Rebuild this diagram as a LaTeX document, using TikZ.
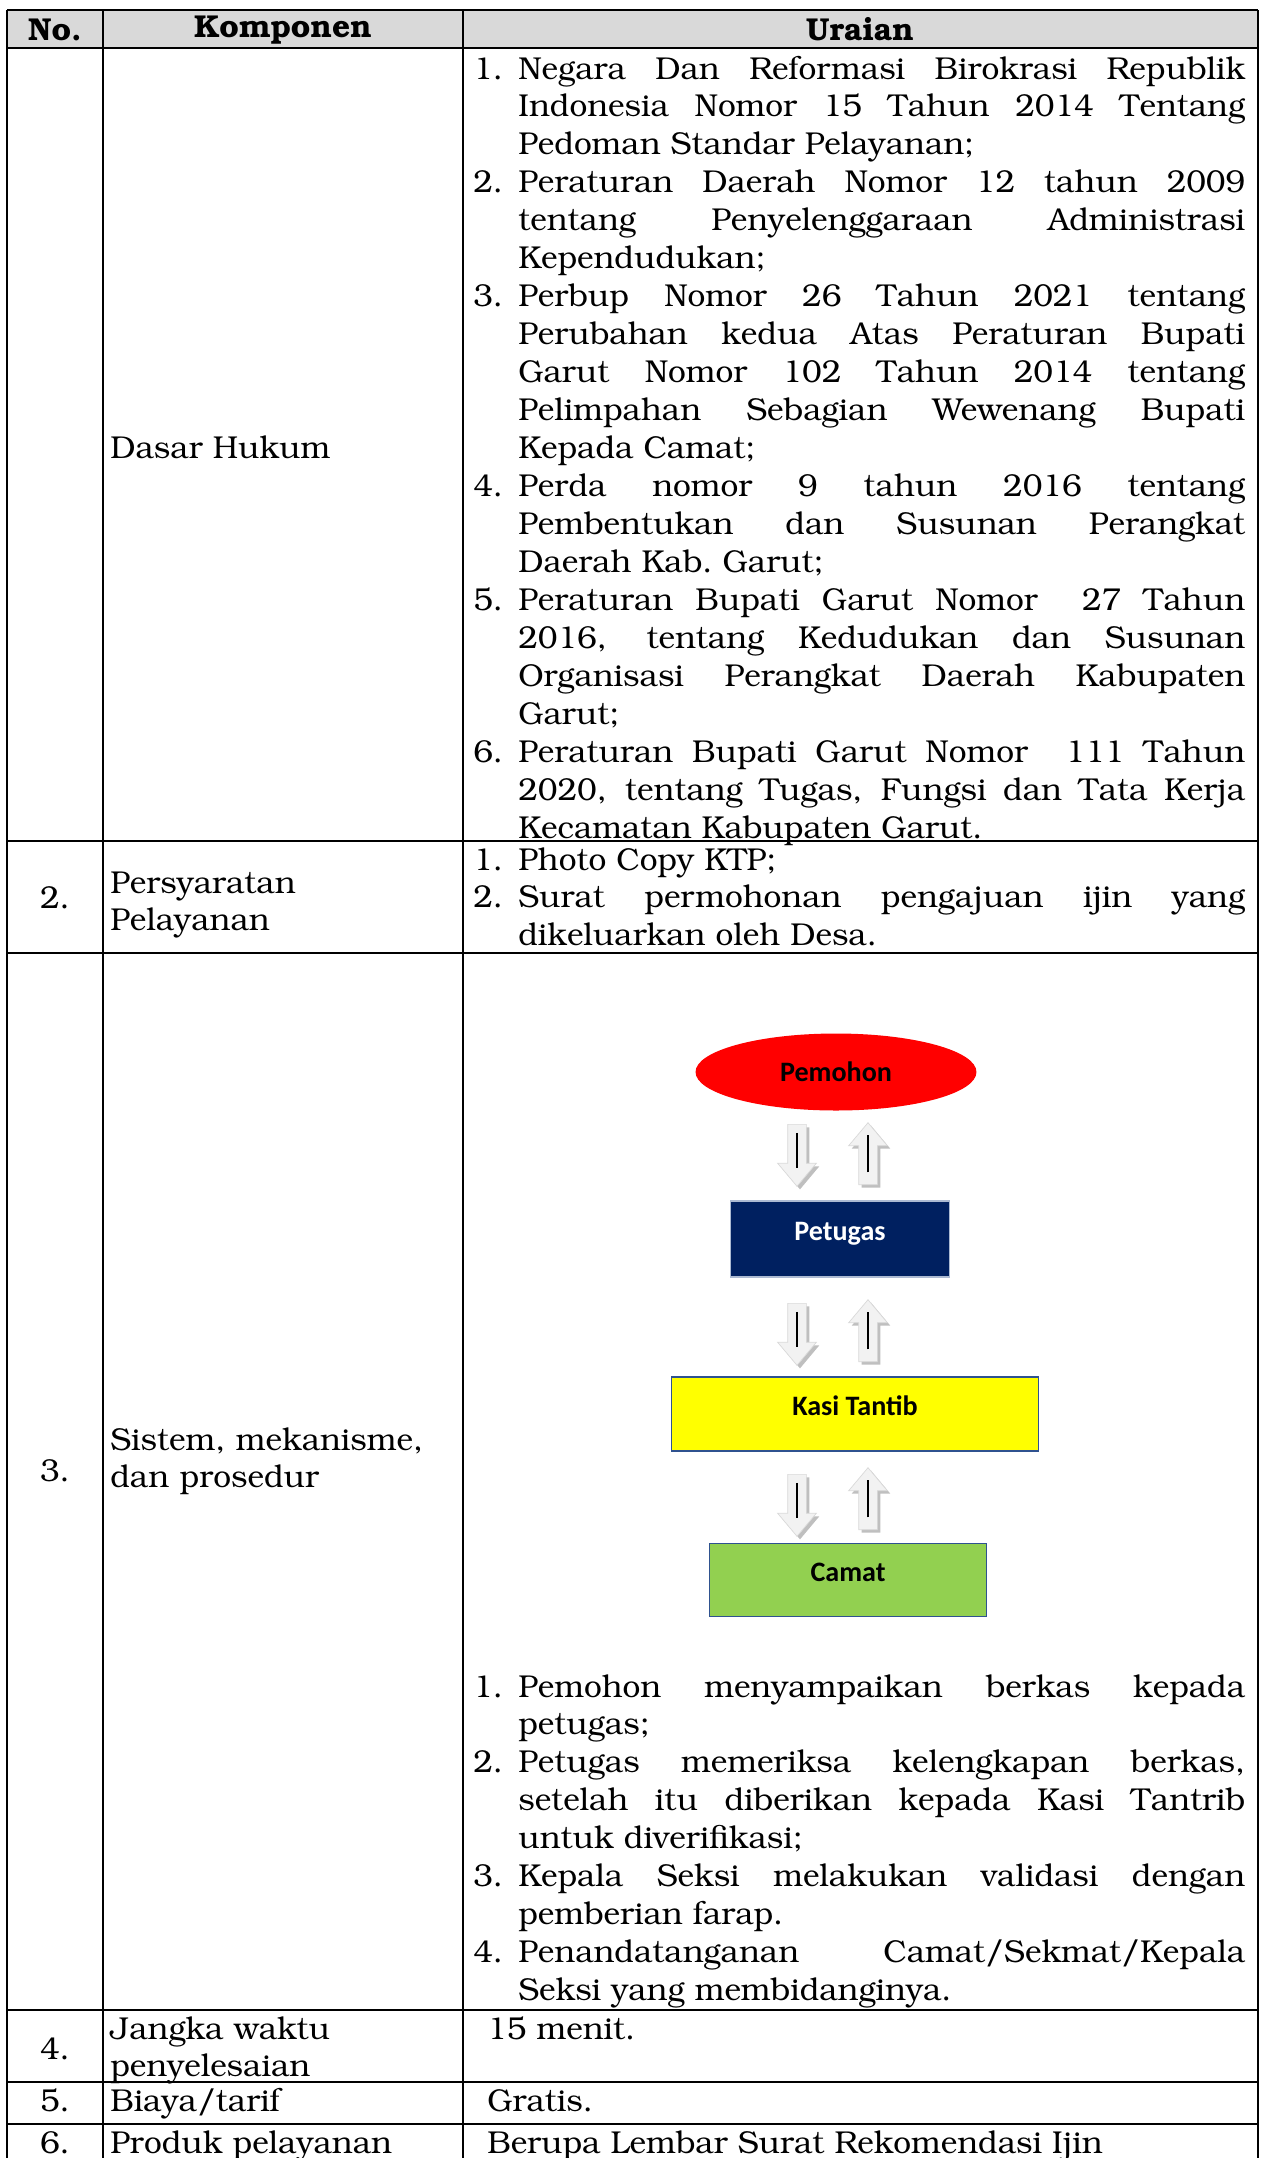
\documentclass[tikz,border=0pt]{standalone}
\usepackage[T1]{fontenc}
\usepackage{fontspec}
\usetikzlibrary{shapes.geometric, shapes.arrows, calc}
\newfontfamily\calibri{Carlito}
\newcommand{\bkfont}{\fontencoding{T1}\fontfamily{pbk}\selectfont}
\newcommand{\butir}[1]{\hangindent=0.9cm\hangafter=1\makebox[0.9cm][l]{#1}\ignorespaces}
\definecolor{hdgray}{HTML}{D9D9D9}
\definecolor{navy}{HTML}{002060}
\definecolor{pemred}{HTML}{FF0000}
\definecolor{kasiyel}{HTML}{FFFF00}
\definecolor{camgreen}{HTML}{92D050}
\definecolor{boxline}{HTML}{2F528F}
\definecolor{arrfill}{HTML}{F2F2F2}
\definecolor{arrshade}{HTML}{BFBFBF}

\begin{document}
\begin{tikzpicture}[x=0.02cm, y=-0.02cm,
  grid/.style={line width=1.1pt},
  txt/.style={font=\bkfont\fontsize{18}{21.6}\selectfont, inner sep=0pt, anchor=base west},
  num/.style={font=\bkfont\fontsize{18}{21.6}\selectfont, inner sep=0pt, anchor=base},
  head/.style={font=\bkfont\bfseries\fontsize{18}{21.6}\selectfont, inner sep=0pt},
  list/.style={txt, text width=15.44cm, align=justify},
  dua/.style={txt, text width=7cm, align=left},
  flow/.style={font=\calibri\bfseries\fontsize{16}{19}\selectfont, inner sep=0pt},
  kotak/.style={rectangle, flow, line width=0.8pt, text height=0.4cm, text depth=0.35cm},
  arrow/.style={single arrow, draw=gray!30, fill=arrfill, line width=0.4pt, inner xsep=0pt, inner ysep=0.18cm,
    minimum height=1.24cm, single arrow head extend=0.2cm, single arrow tip angle=80, anchor=tail},
  arrdown/.style={arrow, rotate=-90},
  arrup/.style={arrow, rotate=90},
  bayang/.style={draw=none, fill=arrshade},
  garis/.style={line width=0.9pt, black}]

\useasboundingbox (0,0) rectangle (1262,2158);

% Header
\fill[hdgray] (7,10) rectangle (1258,48);
\node[head] (hdno) at (55,30) {No.};
\node[head] (hdkomp) at (283,30) {Komponen};
\node[head] (hdurai) at (860,30) {Uraian};

% Grid
\draw[grid, line width=1.6pt] (7,10) -- (1258,10);
\draw[grid] (7,48) -- (1258,48);
\draw[grid] (7,841) -- (1258,841);
\draw[grid] (7,953) -- (1258,953);
\draw[grid] (7,2010) -- (1258,2010);
\draw[grid] (7,2082) -- (1258,2082);
\draw[grid] (7,2124) -- (1258,2124);
\draw[grid] (7,10) -- (7,2158);
\draw[grid] (103,10) -- (103,2158);
\draw[grid] (463,10) -- (463,2158);
\draw[grid] (1258,10) -- (1258,2158);

% Row 1: Dasar Hukum
\node[txt] (dasar) at (110,458) {Dasar Hukum};
\node[list] (dasarisi) at (473,79) {%
\butir{1.}Negara Dan Reformasi Birokrasi Republik\linebreak Indonesia Nomor 15 Tahun 2014 Tentang\linebreak Pedoman Standar Pelayanan;\par
\butir{2.}Peraturan Daerah Nomor 12 tahun 2009\linebreak tentang Penyelenggaraan Administrasi\linebreak Kependudukan;\par
\butir{3.}Perbup Nomor 26 Tahun 2021 tentang\linebreak Perubahan kedua Atas Peraturan Bupati\linebreak Garut Nomor 102 Tahun 2014 tentang\linebreak Pelimpahan Sebagian Wewenang Bupati\linebreak Kepada Camat;\par
\butir{4.}Perda nomor 9 tahun 2016 tentang\linebreak Pembentukan dan Susunan Perangkat\linebreak Daerah Kab.\ Garut;\par
\butir{5.}Peraturan Bupati Garut Nomor~ 27 Tahun\linebreak 2016, tentang Kedudukan dan Susunan\linebreak Organisasi Perangkat Daerah Kabupaten\linebreak Garut;\par
\butir{6.}Peraturan Bupati Garut Nomor~ 111 Tahun\linebreak 2020, tentang Tugas, Fungsi dan Tata Kerja\linebreak Kecamatan Kabupaten Garut.\par};

% Row 2: Persyaratan
\node[num] (no2) at (55,908) {2.};
\node[dua] (syarat) at (110,893) {Persyaratan\\Pelayanan};
\node[list] (syaratisi) at (473,870) {%
\butir{1.}Photo Copy KTP;\par
\butir{2.}Surat permohonan pengajuan ijin yang\linebreak dikeluarkan oleh Desa.\par};

% Row 3: Sistem, mekanisme, dan prosedur
\node[num] (no3) at (55,1481) {3.};
\node[dua] (sistem) at (110,1450) {Sistem, mekanisme,\\dan prosedur};

\node[ellipse, flow, fill=pemred, minimum width=5.62cm, minimum height=1.54cm] (pemohon) at (836,1072) {Pemohon};
\node[kotak, fill=navy, draw=boxline!40, text=white, minimum width=4.38cm, minimum height=1.52cm] (petugas) at (840,1239) {Petugas};
\node[kotak, fill=kasiyel, draw=boxline, minimum width=7.34cm, minimum height=1.48cm] (kasi) at (855,1414) {Kasi Tantib};
\node[kotak, fill=camgreen, draw=boxline, minimum width=5.54cm, minimum height=1.46cm] (camat) at (848,1580) {Camat};

% Block arrows (shadow first)
\node[arrdown, bayang] (bayang1) at (800,1127) {};
\node[arrup, bayang] (bayang2) at (871,1188) {};
\node[arrdown, bayang] (bayang3) at (800,1306) {};
\node[arrup, bayang] (bayang4) at (871,1365) {};
\node[arrdown, bayang] (bayang5) at (800,1477) {};
\node[arrup, bayang] (bayang6) at (871,1533) {};
\node[arrdown] (turun1) at (797,1124) {};
\node[arrup] (naik1) at (868,1185) {};
\node[arrdown] (turun2) at (797,1303) {};
\node[arrup] (naik2) at (868,1362) {};
\node[arrdown] (turun3) at (797,1474) {};
\node[arrup] (naik3) at (868,1530) {};
\draw[garis] ($(turun1.tail)!0.14!(turun1.tip)$) -- ($(turun1.tail)!0.7!(turun1.tip)$);
\draw[garis] ($(naik1.tail)!0.2!(naik1.tip)$) -- ($(naik1.tail)!0.8!(naik1.tip)$);
\draw[garis] ($(turun2.tail)!0.14!(turun2.tip)$) -- ($(turun2.tail)!0.7!(turun2.tip)$);
\draw[garis] ($(naik2.tail)!0.2!(naik2.tip)$) -- ($(naik2.tail)!0.8!(naik2.tip)$);
\draw[garis] ($(turun3.tail)!0.14!(turun3.tip)$) -- ($(turun3.tail)!0.7!(turun3.tip)$);
\draw[garis] ($(naik3.tail)!0.2!(naik3.tip)$) -- ($(naik3.tail)!0.8!(naik3.tip)$);

\node[list] (sistemisi) at (473,1697) {%
\butir{1.}Pemohon menyampaikan berkas kepada\linebreak petugas;\par
\butir{2.}Petugas memeriksa kelengkapan berkas,\linebreak setelah itu diberikan kepada Kasi Tantrib\linebreak untuk diverifikasi;\par
\butir{3.}Kepala Seksi melakukan validasi dengan\linebreak pemberian farap.\par
\butir{4.}Penandatanganan Camat/Sekmat/Kepala\linebreak Seksi yang membidanginya.\par};

% Row 4: Jangka waktu
\node[num] (no4) at (55,2059) {4.};
\node[dua] (jangka) at (110,2039) {Jangka waktu\\penyelesaian};
\node[txt] (jangkaisi) at (487,2039) {15 menit.};

% Row 5: Biaya
\node[num] (no5) at (55,2111) {5.};
\node[txt] (biaya) at (110,2111) {Biaya/tarif};
\node[txt] (biayaisi) at (487,2111) {Gratis.};

% Row 6: Produk
\node[num] (no6) at (55,2153) {6.};
\node[txt] (produk) at (110,2153) {Produk pelayanan};
\node[txt] (produkisi) at (487,2153) {Berupa Lembar Surat Rekomendasi Ijin};

\end{tikzpicture}
\end{document}
